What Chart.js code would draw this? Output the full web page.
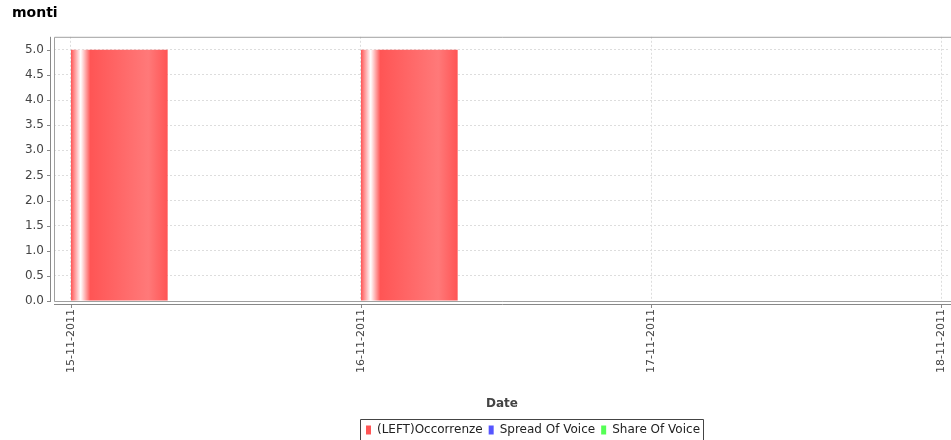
<!DOCTYPE html>
<html>
<head>
<meta charset="utf-8">
<script src="https://cdn.jsdelivr.net/npm/chart.js@4.4.1/dist/chart.umd.min.js"></script>
<style>
  html, body { margin: 0; padding: 0; background: #fff; }
  #wrap { width: 951px; height: 440px; }
</style>
</head>
<body>
<div id="wrap"><canvas id="montiChart" width="951" height="440"></canvas></div>
<script>
// data
const dayLabels = ['15-11-2011', '16-11-2011', '17-11-2011', '18-11-2011'];
const occorrenze = [5, 5, 0];
const spreadOfVoice = [0, 0, 0];
const shareOfVoice = [0, 0, 0];
const seriesNames = ['(LEFT)Occorrenze', 'Spread Of Voice', 'Share Of Voice'];
const seriesColors = ['#FF5555', '#5555FF', '#55FF55'];

// each day is a period; the bar group sits in the middle of the day
const toPoints = arr => arr.map((v, i) => ({ x: i + 0.5, y: v }));

// JFreeChart style gradient on the red bars
const barGradient = {
  id: 'barGradient',
  beforeDatasetsDraw(chart) {
    const ctx = chart.ctx;
    const meta = chart.getDatasetMeta(0);
    meta.data.forEach(el => {
      const left = el.x - el.width / 2;
      const g = ctx.createLinearGradient(left, 0, left + el.width, 0);
      g.addColorStop(0, '#FF5555');
      g.addColorStop(0.1, '#FFFFFF');
      g.addColorStop(0.2, '#FF5555');
      g.addColorStop(0.8, '#FF7979');
      g.addColorStop(1, '#FF5555');
      el.options = Object.assign({}, el.options, { backgroundColor: g });
    });
  }
};

// the original legend is off-centre (the chart was cropped on the right)
const legendShift = {
  id: 'legendShift',
  afterLayout(chart) {
    const lg = chart.legend;
    const dx = 52, dy = 6;
    lg.left += dx; lg.right += dx;
    lg.top += dy; lg.bottom += dy;
    (lg.legendHitBoxes || []).forEach(b => { b.left += dx; });
  }
};

// plot outline, detached axis lines, tick marks, legend frame
const frame = {
  id: 'frame',
  afterDraw(chart) {
    const { ctx, chartArea: a } = chart;
    const xs = chart.scales.x, ys = chart.scales.y;
    ctx.save();
    ctx.lineWidth = 1;
    ctx.strokeStyle = '#a0a0a0';
    ctx.beginPath();
    ctx.moveTo(chart.width, a.top + 0.5);
    ctx.lineTo(a.left + 0.5, a.top + 0.5);
    ctx.lineTo(a.left + 0.5, a.bottom + 0.5);
    ctx.lineTo(chart.width, a.bottom + 0.5);
    ctx.stroke();

    ctx.strokeStyle = '#888';
    ctx.beginPath();
    ctx.moveTo(a.left - 3.5, a.top);
    ctx.lineTo(a.left - 3.5, a.bottom + 1);
    ctx.moveTo(a.left, a.bottom + 3.5);
    ctx.lineTo(chart.width, a.bottom + 3.5);
    ys.ticks.forEach(t => {
      const py = Math.round(ys.getPixelForValue(t.value)) + 0.5;
      ctx.moveTo(a.left - 7, py);
      ctx.lineTo(a.left - 3.5, py);
    });
    xs.ticks.forEach(t => {
      const px = Math.round(xs.getPixelForValue(t.value)) + 0.5;
      ctx.moveTo(px, a.bottom + 3.5);
      ctx.lineTo(px, a.bottom + 7);
    });
    ctx.stroke();

    const lg = chart.legend;
    const boxes = lg.legendHitBoxes;
    if (boxes && boxes.length) {
      const first = boxes[0], last = boxes[boxes.length - 1];
      const x0 = Math.round(first.left - 6), x1 = Math.round(last.left + last.width + 3);
      const y0 = Math.round(lg.top + 1);
      ctx.strokeStyle = '#444';
      ctx.beginPath();
      ctx.moveTo(x0 + 0.5, chart.height + 2);
      ctx.lineTo(x0 + 0.5, y0 + 0.5);
      ctx.lineTo(x1 + 0.5, y0 + 0.5);
      ctx.lineTo(x1 + 0.5, chart.height + 2);
      ctx.stroke();
    }
    ctx.restore();
  }
};

const datasets = [occorrenze, spreadOfVoice, shareOfVoice].map((vals, i) => ({
  label: seriesNames[i],
  data: toPoints(vals),
  backgroundColor: seriesColors[i],
  borderWidth: 0,
  inflateAmount: 0,
  barPercentage: 1,
  categoryPercentage: 1
}));

new Chart(document.getElementById('montiChart'), {
  type: 'bar',
  data: { datasets },
  options: {
    responsive: false,
    animation: false,
    layout: { padding: { left: 12, right: 1, top: 0, bottom: 0 } },
    scales: {
      x: {
        type: 'linear',
        min: -0.0586,
        max: 3.031,
        offset: false,
        afterFit: s => { s.height = 111; s.paddingLeft = 0; s.paddingRight = 0; },
        grid: { color: '#dddddd', drawTicks: false, offset: false },
        border: { display: false, dash: [2, 2] },
        ticks: {
          stepSize: 1,
          includeBounds: false,
          autoSkip: false,
          minRotation: 90,
          maxRotation: 90,
          padding: 8,
          color: '#444',
          font: { family: 'DejaVu Sans', size: 11 },
          callback: v => dayLabels[v] || ''
        },
        title: {
          display: true,
          text: 'Date',
          color: '#444',
          font: { family: 'DejaVu Sans', size: 12, weight: 'bold' },
          padding: { top: 0, bottom: 1 }
        }
      },
      y: {
        min: 0,
        max: 5.26,
        afterFit: s => { s.width = 42; },
        grid: { color: '#dddddd', drawTicks: false },
        border: { display: false, dash: [2, 2] },
        ticks: {
          stepSize: 0.5,
          includeBounds: false,
          padding: 10,
          color: '#444',
          font: { family: 'DejaVu Sans', size: 12 },
          callback: v => v.toFixed(1)
        }
      }
    },
    plugins: {
      title: {
        display: true,
        text: 'monti',
        align: 'start',
        color: '#000',
        font: { family: 'DejaVu Sans', size: 14, weight: 'bold' },
        padding: { top: 5, bottom: 15 }
      },
      legend: {
        position: 'bottom',
        labels: {
          boxWidth: 5,
          boxHeight: 9,
          padding: 6,
          color: '#222',
          font: { family: 'DejaVu Sans', size: 12 }
        }
      },
      tooltip: { enabled: false }
    }
  },
  plugins: [barGradient, legendShift, frame]
});
</script>
</body>
</html>
